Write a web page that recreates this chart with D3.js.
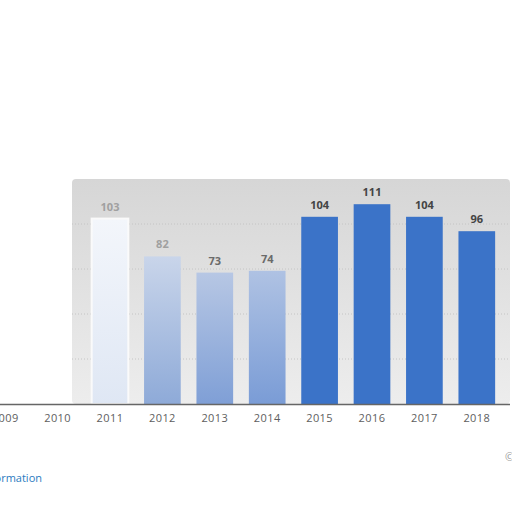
<!DOCTYPE html>
<html>
<head>
<meta charset="utf-8">
<script src="https://cdn.jsdelivr.net/npm/d3@7/dist/d3.min.js"></script>
<style>
    body { margin: 0; background: #fff; }
    svg { display: block; font-family: "Open Sans", sans-serif; }
    .grid line { stroke: #c4c4c4; stroke-dasharray: 1,2; }
    .xlab { font-size: 11px; fill: #5e5e5e; letter-spacing: 0.4px; }
    .vlab { font-size: 11px; font-weight: bold; }
</style>
</head>
<body>
<svg id="main" width="512" height="512"></svg>
<script>
    // data
    var years = ['2009', '2010', '2011', '2012', '2013', '2014', '2015', '2016', '2017', '2018']
    var values = [0, 0, 103, 82, 73, 74, 104, 111, 104, 96]
    var gridTicks = [25, 50, 75, 100]

    var svg = d3.select('#main')
    var plotTop = 179, plotBottom = 404

    var x = d3.scaleBand().domain(years).range([-21, 503])
        .paddingInner(0.3).paddingOuter(0.15)
    var y = d3.scaleLinear().domain([0, 125]).range([plotBottom, plotTop])

    var defs = svg.append('defs')
    var bg = defs.append('linearGradient').attr('id', 'bg')
        .attr('x1', 0).attr('y1', 0).attr('x2', 0).attr('y2', 1)
    bg.append('stop').attr('offset', '0%').attr('stop-color', '#d6d6d6')
    bg.append('stop').attr('offset', '100%').attr('stop-color', '#ededed')

    // faded bars: pale at the top, bluer at the foot
    var fade = [['f2011', '#f3f6fb', '#dfe7f4'], ['f2012', '#c9d5ea', '#8eaad8'],
                ['f2013', '#b7c7e4', '#7f9fd6'], ['f2014', '#afc2e3', '#7a9cd6']]
    fade.forEach(function (f) {
        var g = defs.append('linearGradient').attr('id', f[0])
            .attr('x1', 0).attr('y1', 0).attr('x2', 0).attr('y2', 1)
        g.append('stop').attr('offset', '0%').attr('stop-color', f[1])
        g.append('stop').attr('offset', '100%').attr('stop-color', f[2])
    })

    // panel (the washed grey area behind the bars)
    svg.append('rect')
        .attr('x', 72).attr('y', plotTop)
        .attr('width', 438).attr('height', plotBottom - plotTop)
        .attr('rx', 4)
        .attr('fill', 'url(#bg)')

    svg.append('g').attr('class', 'grid')
        .selectAll('line')
        .data(gridTicks)
        .enter().append('line')
        .attr('x1', 72).attr('x2', 510)
        .attr('y1', d => y(d)).attr('y2', d => y(d))

    var fill = function (d) {
        var i = years.indexOf(d)
        if (i >= 2 && i <= 5) return 'url(#f' + d + ')'
        return '#3b73c8'
    }

    svg.append('g')
        .selectAll('rect')
        .data(years)
        .enter().append('rect')
        .attr('x', d => x(d))
        .attr('width', x.bandwidth())
        .attr('y', (d, i) => y(values[i]))
        .attr('height', (d, i) => plotBottom - y(values[i]))
        .attr('fill', fill)
        .attr('stroke', d => d === '2011' ? '#fafafa' : 'none')
        .attr('stroke-width', 2)

    svg.append('g')
        .selectAll('text')
        .data(years.filter((d, i) => values[i] > 0))
        .enter().append('text')
        .attr('class', 'vlab')
        .attr('x', d => x(d) + x.bandwidth() / 2)
        .attr('y', d => y(values[years.indexOf(d)]) - 8)
        .attr('text-anchor', 'middle')
        .style('fill', d => years.indexOf(d) < 4 ? '#a0a0a0' : (years.indexOf(d) < 6 ? '#6a6a6a' : '#444'))
        .text(d => values[years.indexOf(d)])

    // axis line
    svg.append('line')
        .attr('x1', 0).attr('x2', 510)
        .attr('y1', plotBottom + 0.5).attr('y2', plotBottom + 0.5)
        .attr('stroke', '#666').attr('stroke-width', 1.5)

    svg.append('g')
        .selectAll('text')
        .data(years)
        .enter().append('text')
        .attr('class', 'xlab')
        .attr('x', d => x(d) + x.bandwidth() / 2)
        .attr('y', 422)
        .attr('text-anchor', 'middle')
        .text(d => d)

    svg.append('text')
        .attr('x', 42).attr('y', 482)
        .attr('text-anchor', 'end')
        .style('font-size', '11px').style('fill', '#2a7bc0')
        .text('Additional Information')

    svg.append('text')
        .attr('x', 505).attr('y', 461)
        .style('font-size', '11px').style('fill', '#999')
        .text('© Statista 2019')
</script>
</body>
</html>
